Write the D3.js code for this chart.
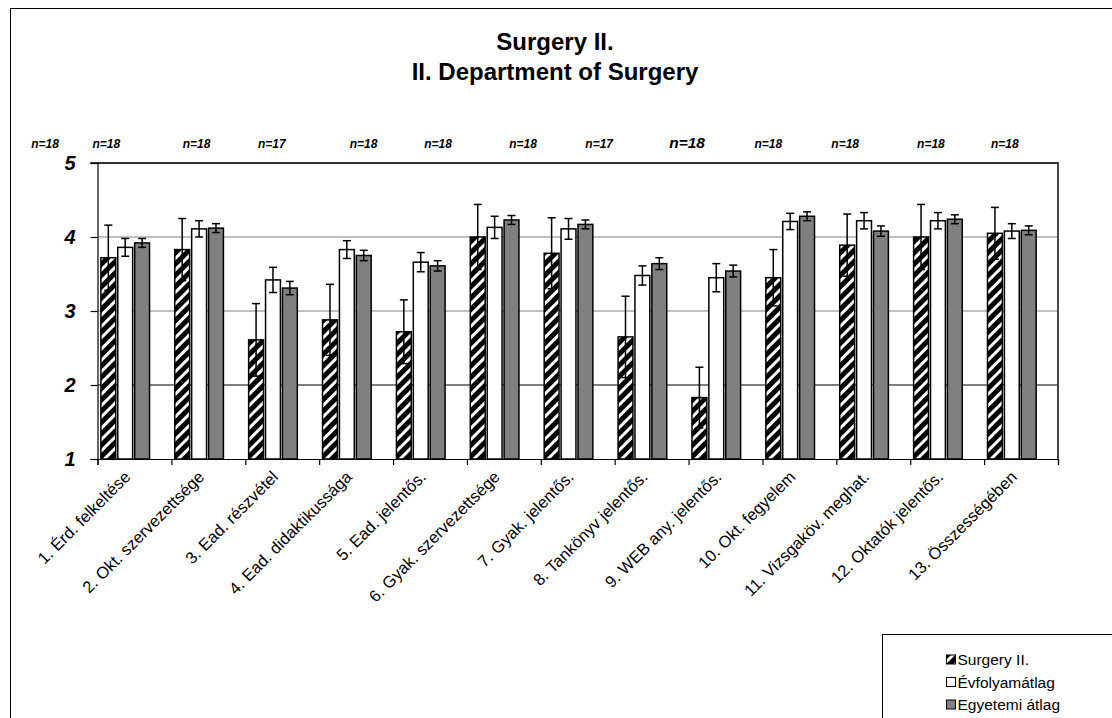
<!DOCTYPE html>
<html>
<head>
<meta charset="utf-8">
<script src="https://d3js.org/d3.v7.min.js"></script>
<style>
  html, body { margin: 0; padding: 0; background: #fff; }
  svg { display: block; font-family: Arial, "Liberation Sans", sans-serif; }
</style>
</head>
<body>
<svg id="chart" width="1112" height="718"></svg>
<script>
// chart data
const categories = [
  "1. Érd. felkeltése", "2. Okt. szervezettsége", "3. Ead. részvétel",
  "4. Ead. didaktikussága", "5. Ead. jelentős.", "6. Gyak. szervezettsége",
  "7. Gyak. jelentős.", "8. Tankönyv jelentős.", "9. WEB any. jelentős.",
  "10. Okt. fegyelem", "11. Vizsgaköv. meghat.", "12. Oktatók jelentős.",
  "13. Összességében"
]
const seriesNames = ["Surgery II.", "Évfolyamátlag", "Egyetemi átlag"]

const surgery     = [3.72, 3.83, 2.61, 2.88, 2.72, 4.00, 3.78, 2.65, 1.83, 3.45, 3.89, 4.00, 4.05]
const surgeryErr  = [0.44, 0.42, 0.49, 0.48, 0.43, 0.44, 0.48, 0.55, 0.41, 0.38, 0.42, 0.44, 0.35]
const evfolyam    = [3.86, 4.11, 3.42, 3.83, 3.66, 4.13, 4.11, 3.48, 3.45, 4.21, 4.22, 4.22, 4.08]
const evfolyamErr = [0.12, 0.11, 0.17, 0.12, 0.13, 0.15, 0.14, 0.13, 0.19, 0.11, 0.11, 0.11, 0.10]
const egyetemi    = [3.92, 4.12, 3.31, 3.75, 3.61, 4.23, 4.17, 3.64, 3.54, 4.28, 4.08, 4.24, 4.09]
const egyetemiErr = [0.06, 0.06, 0.09, 0.07, 0.07, 0.06, 0.06, 0.08, 0.08, 0.06, 0.07, 0.06, 0.06]

const yTicks = [1, 2, 3, 4, 5]

// "n=" notes above the plot; nAt is where each sits, in category units
const nLabels = ["n=18", "n=18", "n=18", "n=17", "n=18", "n=18", "n=18", "n=17", "n=18", "n=18", "n=18", "n=18", "n=18"]
const nAt     = [-0.71, 0.12, 1.34, 2.36, 3.60, 4.61, 5.76, 6.79, 7.98, 9.08, 10.12, 11.28, 12.28]

const title = ["Surgery II.", "II. Department of Surgery"]

const [width, height] = [1112, 718]
const margin = {top: 163, right: 54, bottom: 259, left: 97.5}

const svg = d3.select("#chart")

const defs = svg.append("defs")
const hatch = defs.append("pattern")
    .attr("id", "hatch")
    .attr("patternUnits", "userSpaceOnUse")
    .attr("width", 8).attr("height", 8)
    .attr("patternTransform", "rotate(45)")
hatch.append("rect").attr("width", 8).attr("height", 8).attr("fill", "#000")
hatch.append("rect").attr("width", 3).attr("height", 8).attr("fill", "#fff")

// outer chart frame
svg.append("rect")
    .attr("x", 10.5).attr("y", 8.5)
    .attr("width", width).attr("height", height)
    .attr("fill", "none").attr("stroke", "#000")

const x0 = d3.scaleBand()
    .domain(categories)
    .range([margin.left, width - margin.right])
const x1 = d3.scaleBand()
    .domain(seriesNames)
    .range([0, x0.bandwidth() * 0.75])
    .paddingInner(0.12)
    .paddingOuter(0.2)
const xPos = d3.scaleLinear()
    .domain([0, categories.length])
    .range([margin.left, width - margin.right])
const y = d3.scaleLinear()
    .domain([1, 5])
    .range([height - margin.bottom, margin.top])

// title
svg.append("g")
    .selectAll("text")
    .data(title)
    .join("text")
      .attr("x", 555)
      .attr("y", (d, i) => 50 + i * 30)
      .attr("text-anchor", "middle")
      .attr("font-size", 24)
      .attr("font-weight", "bold")
      .text(d => d)

// gridlines
svg.append("g")
    .selectAll("line")
    .data([2, 3, 4])
    .join("line")
      .attr("x1", margin.left).attr("x2", width - margin.right)
      .attr("y1", d => y(d)).attr("y2", d => y(d))
      .attr("stroke", d => d === 2 ? "#000" : "#808080")
      .attr("stroke-width", 1.2)

// plot frame top / right
svg.append("path")
    .attr("d", `M${margin.left - 7},${y(5)}H${width - margin.right}V${y(1)}`)
    .attr("fill", "none")
    .attr("stroke", "#333")
    .attr("stroke-width", 1.8)

const series = [
  {name: seriesNames[0], values: surgery, err: surgeryErr, fill: "url(#hatch)"},
  {name: seriesNames[1], values: evfolyam, err: evfolyamErr, fill: "#fff"},
  {name: seriesNames[2], values: egyetemi, err: egyetemiErr, fill: "#808080"}
]
const rows = categories.map((c, i) => series.map(s => ({
  cat: c, name: s.name, value: s.values[i], err: s.err[i], fill: s.fill
})))

const groups = svg.append("g")
    .selectAll("g")
    .data(rows)
    .join("g")
      .attr("transform", d => `translate(${x0(d[0].cat)},0)`)

groups.selectAll("rect")
    .data(d => d)
    .join("rect")
      .attr("x", d => x1(d.name))
      .attr("y", d => y(d.value))
      .attr("width", x1.bandwidth())
      .attr("height", d => y(1) - y(d.value))
      .attr("fill", d => d.fill)
      .attr("stroke", "#000")
      .attr("stroke-width", 1.5)

// error bars
const eb = groups.selectAll("g.err")
    .data(d => d)
    .join("g")
      .attr("class", "err")
      .attr("stroke", "#000")
      .attr("stroke-width", 1.5)
      .attr("transform", d => `translate(${x1(d.name) + x1.bandwidth() / 2},0)`)
eb.append("line")
    .attr("y1", d => y(d.value - d.err)).attr("y2", d => y(d.value + d.err))
eb.append("line")
    .attr("x1", -4).attr("x2", 4)
    .attr("y1", d => y(d.value + d.err)).attr("y2", d => y(d.value + d.err))
eb.append("line")
    .attr("x1", -4).attr("x2", 4)
    .attr("y1", d => y(d.value - d.err)).attr("y2", d => y(d.value - d.err))

// x axis
const xAxis = g => g
    .attr("transform", `translate(0,${y(1)})`)
    .call(d3.axisBottom(xPos).tickValues(d3.range(categories.length + 1)).tickSize(6).tickFormat(""))
    .call(g => g.selectAll("line, path").attr("stroke", "#000").attr("stroke-width", 1.2))
svg.append("g").call(xAxis)

svg.append("g")
    .selectAll("text")
    .data(categories)
    .join("text")
      .attr("transform", d => `translate(${x0(d) + x0.bandwidth() / 2 - 3},${y(1) + 19}) rotate(-45)`)
      .attr("text-anchor", "end")
      .attr("font-size", 16.5)
      .text(d => d)

// y axis
const yAxis = g => g
    .attr("transform", `translate(${margin.left},0)`)
    .call(d3.axisLeft(y).tickValues(yTicks).tickSize(7).tickPadding(15).tickFormat(d3.format("d")))
    .call(g => g.selectAll("line, path").attr("stroke", "#000").attr("stroke-width", 1.2))
    .call(g => g.selectAll("text")
        .attr("font-size", 20)
        .attr("font-weight", "bold")
        .attr("font-style", "italic")
        .attr("fill", "#000"))
svg.append("g").call(yAxis)

// n= notes
svg.append("g")
    .selectAll("text")
    .data(nLabels)
    .join("text")
      .attr("x", (d, i) => xPos(nAt[i]))
      .attr("y", 148)
      .attr("text-anchor", "middle")
      .attr("font-size", (d, i) => i === 8 ? 15.5 : 12)
      .attr("font-weight", "bold")
      .attr("font-style", "italic")
      .text(d => d)

// legend
const legend = svg.append("g").attr("transform", "translate(882.5,634.5)")
legend.append("rect")
    .attr("width", 260).attr("height", 100)
    .attr("fill", "#fff").attr("stroke", "#000")
const item = legend.selectAll("g")
    .data(series)
    .join("g")
      .attr("transform", (d, i) => `translate(64,${25 + i * 22.5})`)
item.append("rect")
    .attr("x", 0).attr("y", -4.5)
    .attr("width", 9).attr("height", 9)
    .attr("fill", d => d.fill)
    .attr("stroke", "#000")
item.append("text")
    .attr("x", 11)
    .attr("dy", "0.36em")
    .attr("font-size", 15.5)
    .text(d => d.name)
</script>
</body>
</html>
